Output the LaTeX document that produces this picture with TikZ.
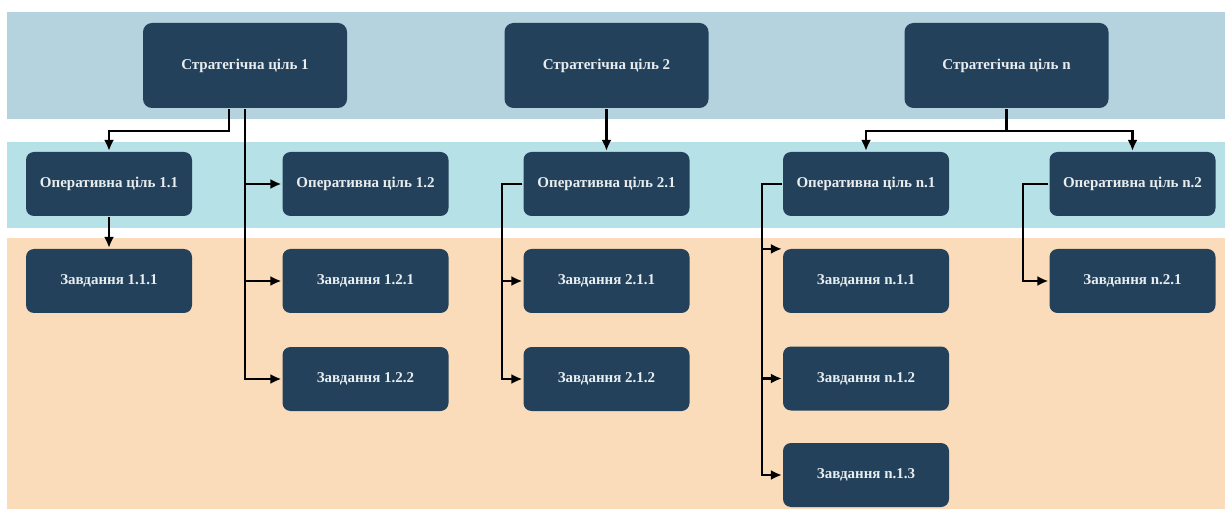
\documentclass[tikz,border=0pt]{standalone}
\usepackage{fontspec}
\setmainfont{Liberation Serif}
\usepackage{tikz}
\usetikzlibrary{calc,arrows.meta}

\definecolor{navy}{RGB}{35,65,90}
\definecolor{bandone}{RGB}{180,211,223}
\definecolor{bandtwo}{RGB}{182,225,230}
\definecolor{bandthree}{RGB}{250,220,186}
\definecolor{boxtext}{RGB}{232,237,240}

\begin{document}
\begin{tikzpicture}[->,>={Latex[length=11pt,width=10pt]},x=1pt,y=-1pt,line width=2.2pt,
	goal node/.style={rectangle,rounded corners=9pt,fill=navy,text=boxtext,minimum width=204pt,minimum height=85pt,inner sep=0pt},
	op node/.style={rectangle,rounded corners=8pt,fill=navy,text=boxtext,minimum width=166pt,minimum height=64pt,inner sep=0pt}]
	\tikzstyle{every node}=[font=\bfseries\fontsize{15}{17}\selectfont]
	\useasboundingbox (0,0) rectangle (1225,510);
	% bands
	\fill[bandone] (7,12) rectangle (1225,119);
	\fill[bandtwo] (7,142) rectangle (1225,228);
	\fill[bandthree] (7,238) rectangle (1225,509);
	% strategic goals
	\draw (245,65.5) node(s1) [goal node] {Стратегічна ціль 1}
	      (606.5,65.5) node(s2) [goal node] {Стратегічна ціль 2}
	      (1006.5,65.5) node(sn) [goal node] {Стратегічна ціль n};
	% operative goals
	\draw (109,184) node(o11) [op node] {Оперативна ціль 1.1}
	      (365.5,184) node(o12) [op node] {Оперативна ціль 1.2}
	      (606.5,184) node(o21) [op node] {Оперативна ціль 2.1}
	      (866,184) node(on1) [op node] {Оперативна ціль n.1}
	      (1132.5,184) node(on2) [op node] {Оперативна ціль n.2};
	% tasks
	\draw (109,281) node(z111) [op node] {Завдання 1.1.1}
	      (365.5,281) node(z121) [op node] {Завдання 1.2.1}
	      (365.5,379) node(z122) [op node] {Завдання 1.2.2}
	      (606.5,281) node(z211) [op node] {Завдання 2.1.1}
	      (606.5,379) node(z212) [op node] {Завдання 2.1.2}
	      (866,281) node(zn11) [op node] {Завдання n.1.1}
	      (866,378.5) node(zn12) [op node] {Завдання n.1.2}
	      (866,475) node(zn13) [op node] {Завдання n.1.3}
	      (1132.5,281) node(zn21) [op node] {Завдання n.2.1};
	% goal 1
	\draw (s1.south -| 229,0) |- (109,131) -- (o11.north);
	\draw (o11) -- (z111);
	\draw (s1.south) |- (o12.west);
	\draw (s1.south) |- (z121.west);
	\draw (s1.south) |- (z122.west);
	% goal 2
	\draw (s2) -- (o21);
	\draw (o21.west) -- (502,184) |- (z211.west);
	\draw (o21.west) -- (502,184) |- (z212.west);
	% goal n
	\draw (sn.south) -- (1006.5,131) -| (on1.north);
	\draw (sn.south) -- (1006.5,131) -| (on2.north);
	\draw (on1.west) -- (762,184) |- ($(zn11.north west)+(0,1)$);
	\draw (on1.west) -- (762,184) |- (zn12.west);
	\draw (on1.west) -- (762,184) |- (zn13.west);
	\draw (on2.west) -- (1023,184) |- (zn21.west);
\end{tikzpicture}
\end{document}
